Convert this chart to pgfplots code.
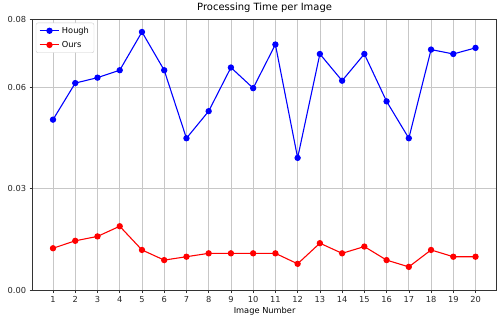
\documentclass[border=0pt]{standalone}
\usepackage{pgfplots}
\pgfplotsset{compat=1.18}
\usepackage{fontspec}
\setmainfont{DejaVu Sans}
\begin{document}
\begin{tikzpicture}
\begin{axis}[
  name=ax,
  at={(0,0)}, anchor=south west,
  scale only axis,
  width=466.2pt, height=272pt,
  xmin=0.08, xmax=20.95,
  ymin=0, ymax=0.08,
  xtick={1,...,20},
  ytick={0,0.03,0.06,0.08},
  yticklabels={0.00,0.03,0.06,0.08},
  scaled y ticks=false,
  /pgf/number format/assume math mode=true,
  tick label style={font=\fontsize{8.3}{9}\selectfont, color=black!85},
  label style={font=\fontsize{8.3}{9}\selectfont},
  title style={font=\fontsize{10}{12}\selectfont, yshift=-3pt},
  title={Processing Time per Image},
  xlabel={Image Number},
  xlabel style={yshift=3pt},
  grid=major,
  grid style={black!22, line width=0.7pt},
  tick align=outside,
  major tick length=3pt,
  tick style={black!80, line width=0.6pt},
  axis line style={black!80, line width=0.7pt},
  xtick pos=bottom, ytick pos=left,
  legend cell align=left,
  legend style={font=\fontsize{8.3}{10}\selectfont, draw=black!20, rounded corners=2pt, at={(0.007,0.988)}, anchor=north west, inner xsep=3pt, inner ysep=2pt, row sep=2.5pt},
  legend image code/.code={\draw[#1] (0pt,0pt) -- (20pt,0pt); \draw[#1,only marks] plot coordinates {(10pt,0pt)};},
]
\addplot[blue, line width=1.1pt, mark=*, mark size=2.6pt] coordinates {
(1,0.0504) (2,0.0612) (3,0.0628) (4,0.0650) (5,0.0763) (6,0.0650) (7,0.0449) (8,0.0529) (9,0.0658) (10,0.0597)
(11,0.0726) (12,0.0391) (13,0.0698) (14,0.0619) (15,0.0698) (16,0.0558) (17,0.0449) (18,0.0711) (19,0.0698) (20,0.0716)};
\addlegendentry{Hough}
\addplot[red, line width=1.1pt, mark=*, mark size=2.6pt] coordinates {
(1,0.0124) (2,0.0146) (3,0.0159) (4,0.0189) (5,0.0119) (6,0.0089) (7,0.0099) (8,0.0109) (9,0.0109) (10,0.0109)
(11,0.0109) (12,0.0078) (13,0.0139) (14,0.0109) (15,0.0129) (16,0.0089) (17,0.0069) (18,0.0119) (19,0.0099) (20,0.0099)};
\addlegendentry{Ours}
\end{axis}
\useasboundingbox (-32.7pt,-29pt) rectangle (464.3pt,291pt);
\end{tikzpicture}
\end{document}
